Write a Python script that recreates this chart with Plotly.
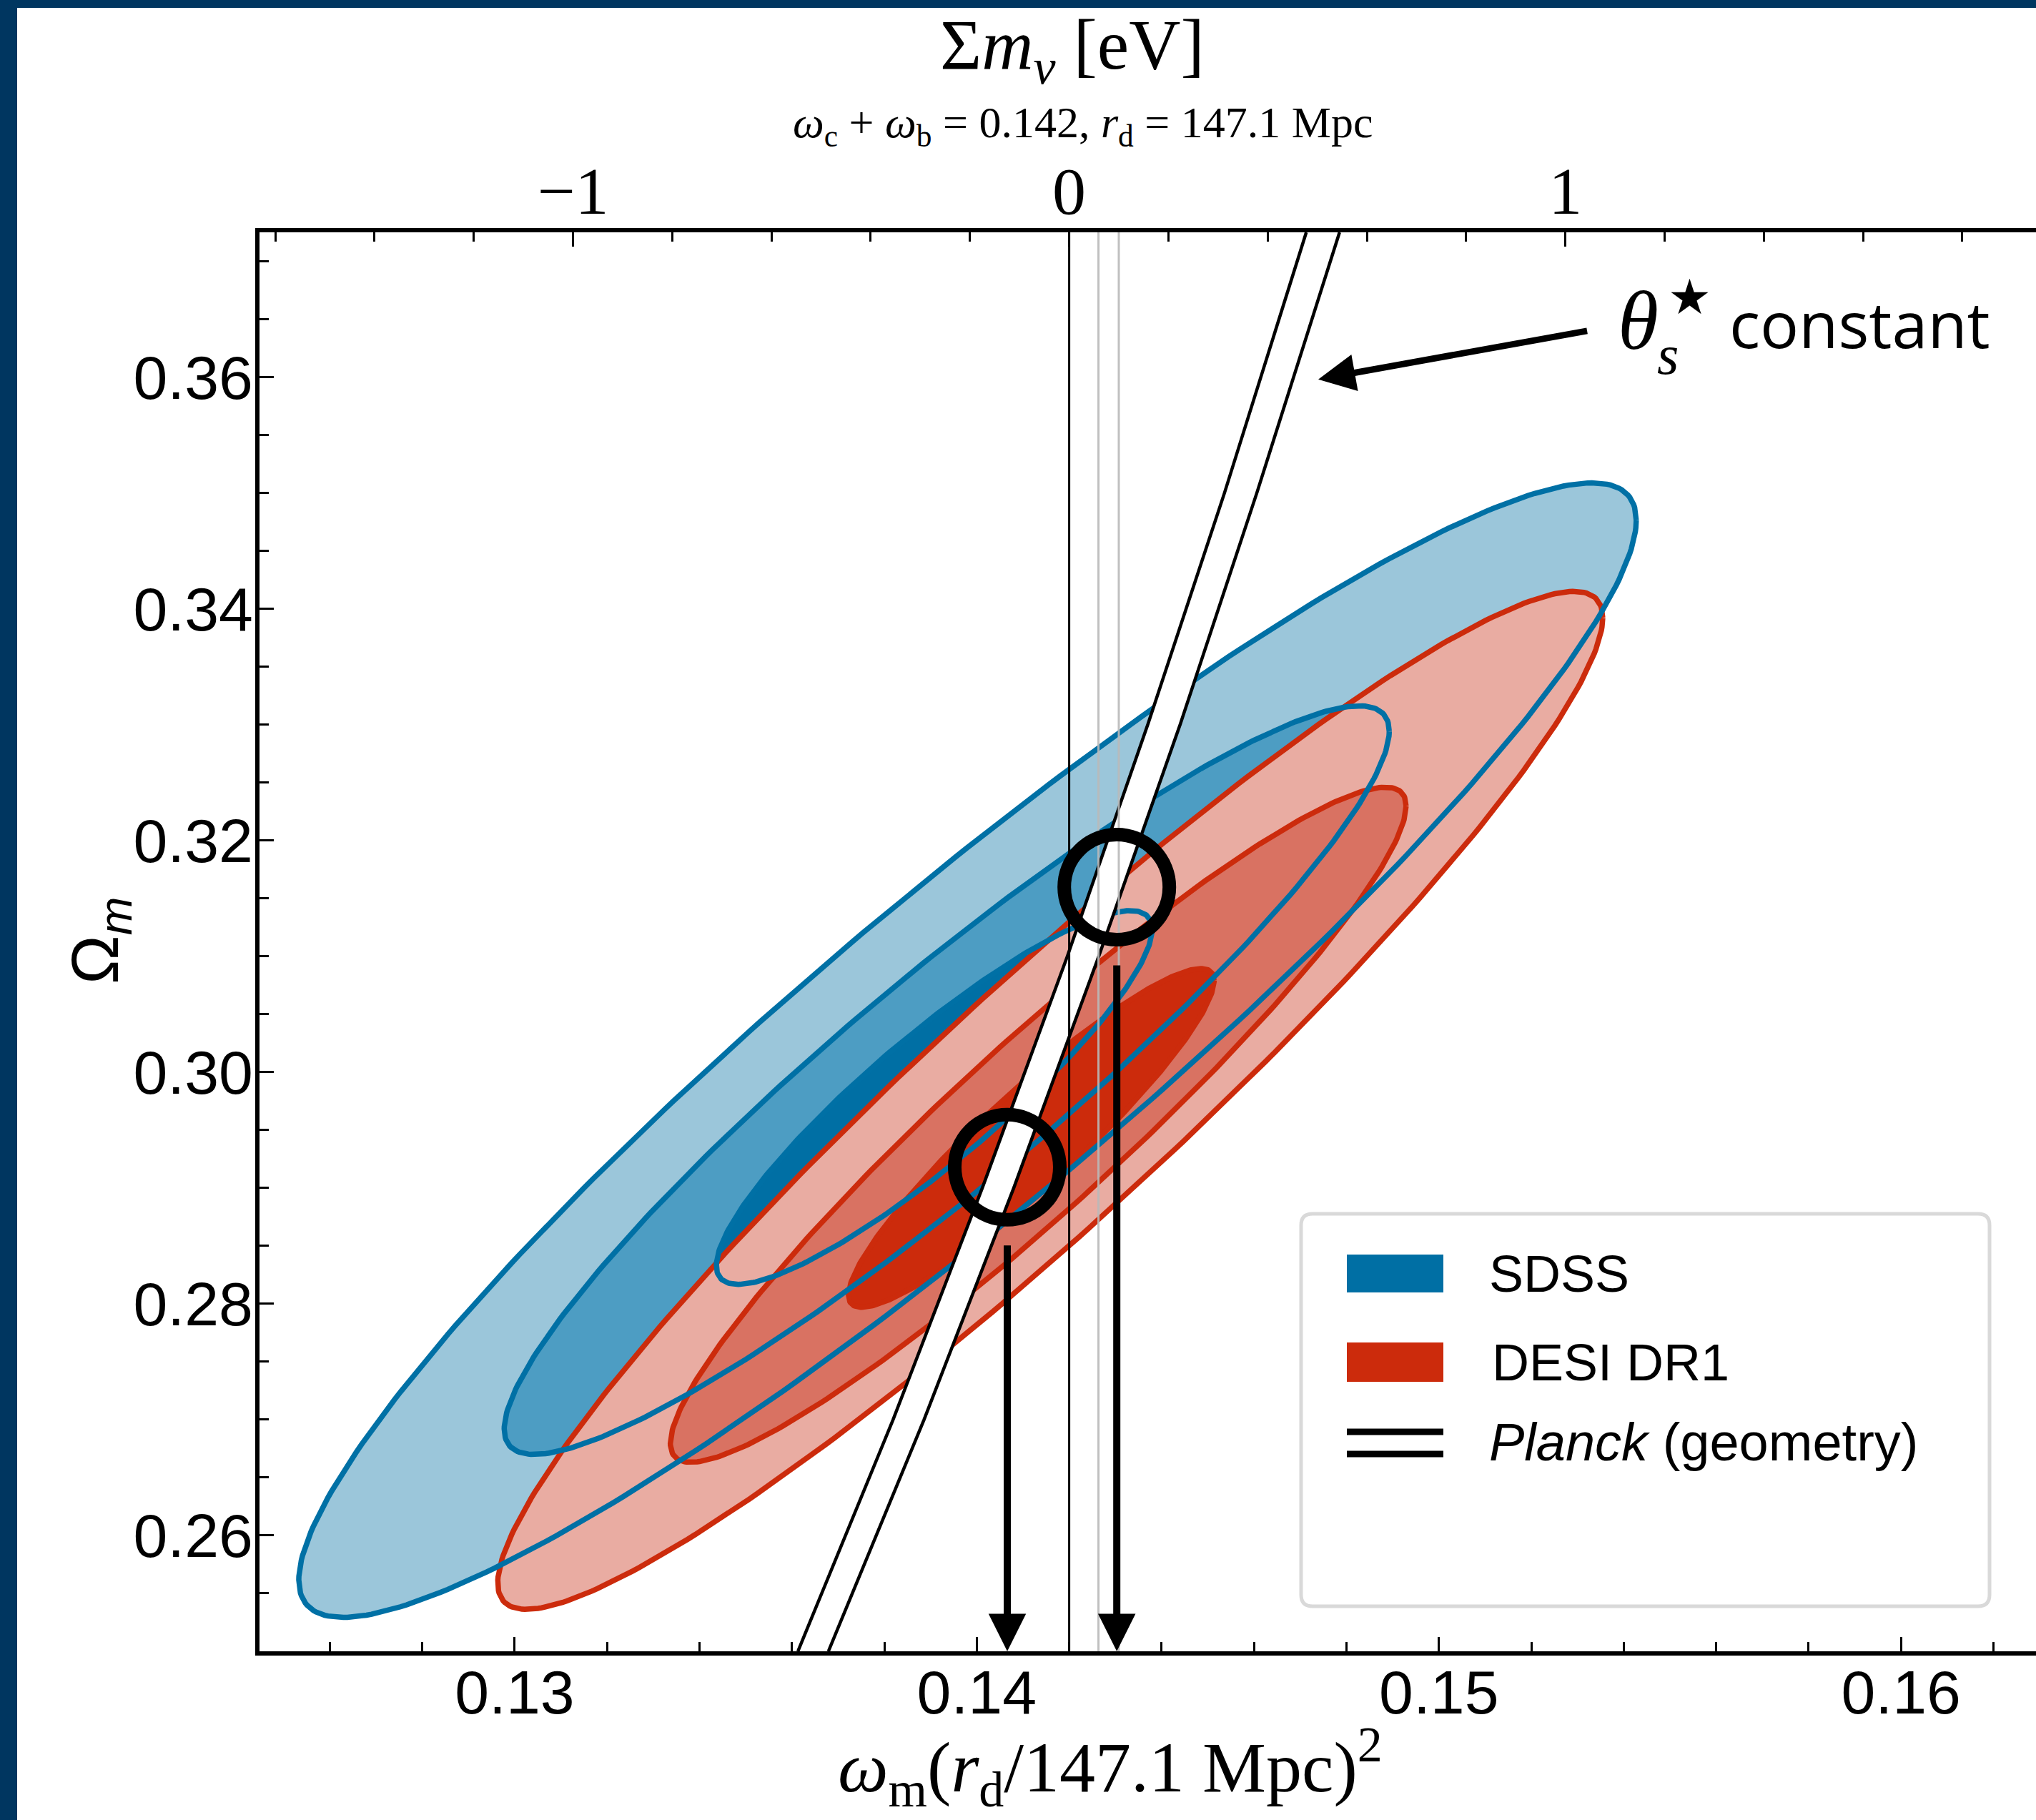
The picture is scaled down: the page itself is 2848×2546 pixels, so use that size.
import numpy as np
import plotly.graph_objects as go

# ---------------- figure geometry ----------------
W, H = 2848, 2546
ML, MR, MT, MB = 363, 0, 325, 236

# ---------------- data ----------------
X_RANGE = [0.12448, 0.16292]
Y_RANGE = [0.2500, 0.3725]
OMEGA_CB = 0.142        # omega_c + omega_b
EV_PER_OMEGA = 93.14    # sum m_nu [eV] per unit omega

X_TICKS = [0.13, 0.14, 0.15, 0.16]
Y_TICKS = [0.26, 0.28, 0.30, 0.32, 0.34, 0.36]
MNU_TICKS = [-1, 0, 1]

# SDSS contours (outer -> inner): centre, half-extent in x / y, correlation
SDSS_CX = [0.13980, 0.13935, 0.13908]
SDSS_CY = [0.30190, 0.29931, 0.29781]
SDSS_HX = [0.01447, 0.009575, 0.004715]
SDSS_HY = [0.04897, 0.03231, 0.01613]
SDSS_RHO = [0.934, 0.932, 0.900]

# DESI DR1 contours (outer -> inner)
DESI_CX = [0.14159, 0.14133, 0.14118]
DESI_CY = [0.29756, 0.29546, 0.29432]
DESI_HX = [0.011955, 0.00796, 0.003955]
DESI_HY = [0.04394, 0.02914, 0.01462]
DESI_RHO = [0.948, 0.944, 0.928]

# Planck theta* = const band (edges)
PLANCK_Y = [0.25, 0.27, 0.29, 0.31, 0.33, 0.35, 0.3725]
PLANCK_XL = [0.13613, 0.13819, 0.14012, 0.14196, 0.14370, 0.14536, 0.14713]
PLANCK_XR = [0.13679, 0.13886, 0.14080, 0.14264, 0.14440, 0.14606, 0.14785]

# neutrino-mass reference lines (eV)
MNU_ZERO = [0.0]
MNU_MIN = [0.059, 0.1]

# highlighted intersections
CIRCLE_X = [0.14303, 0.14066]
CIRCLE_Y = [0.31597, 0.29179]

THETA_TAIL = [0.15323, 0.36401]
THETA_TIP = [0.14739, 0.35981]

LEGEND_NAMES = ["SDSS", "DESI DR1", "<i>Planck</i> (geometry)"]

# ---------------- styles ----------------
SDSS_FILL = ["#9BC6DA", "#4D9DC3", "#006FA4"]
SDSS_LINE = "#0070A5"
DESI_FILL = ["#E9ACA2", "#D97262", "#CC2B0C"]
DESI_LINE = "#CC2B0C"
NAVY = "#003660"
SANS = "Liberation Sans"
SERIF = "Liberation Serif"
CW = 7.5  # contour line width

PW = W - ML - MR
PH = H - MT - MB


def pp_x(px):
    return (px - ML) / PW


def pp_y(py):
    return (H - MB - py) / PH


def ellipse(cx, cy, hx, hy, rho, n=361):
    t = np.linspace(0, 2 * np.pi, n)
    x = cx + hx * np.cos(t)
    y = cy + hy * (rho * np.cos(t) + np.sqrt(1 - rho ** 2) * np.sin(t))
    return x, y


fig = go.Figure()

# SDSS fills
for i in range(3):
    ex, ey = ellipse(SDSS_CX[i], SDSS_CY[i], SDSS_HX[i], SDSS_HY[i], SDSS_RHO[i])
    fig.add_trace(go.Scatter(x=ex, y=ey, mode="lines", fill="toself",
                             fillcolor=SDSS_FILL[i], line=dict(width=0),
                             hoverinfo="skip", showlegend=False))
# DESI fills + outlines
for i in range(3):
    ex, ey = ellipse(DESI_CX[i], DESI_CY[i], DESI_HX[i], DESI_HY[i], DESI_RHO[i])
    fig.add_trace(go.Scatter(x=ex, y=ey, mode="lines", fill="toself",
                             fillcolor=DESI_FILL[i], line=dict(width=CW, color=DESI_LINE),
                             hoverinfo="skip", showlegend=False))
# SDSS outlines on top
for i in range(3):
    ex, ey = ellipse(SDSS_CX[i], SDSS_CY[i], SDSS_HX[i], SDSS_HY[i], SDSS_RHO[i])
    fig.add_trace(go.Scatter(x=ex, y=ey, mode="lines",
                             line=dict(width=CW, color=SDSS_LINE),
                             hoverinfo="skip", showlegend=False))

# Planck band
fig.add_trace(go.Scatter(x=PLANCK_XL + PLANCK_XR[::-1], y=PLANCK_Y + PLANCK_Y[::-1],
                         mode="lines", fill="toself", fillcolor="white",
                         line=dict(width=0), hoverinfo="skip", showlegend=False))
for xs in (PLANCK_XL, PLANCK_XR):
    fig.add_trace(go.Scatter(x=xs, y=PLANCK_Y, mode="lines",
                             line=dict(width=4.5, color="black"),
                             hoverinfo="skip", showlegend=False))

# neutrino mass lines on the top axis
for m in MNU_ZERO:
    fig.add_trace(go.Scatter(x=[m, m], y=Y_RANGE, xaxis="x2", yaxis="y", mode="lines",
                             line=dict(width=3, color="black"),
                             hoverinfo="skip", showlegend=False))
for m in MNU_MIN:
    fig.add_trace(go.Scatter(x=[m, m], y=Y_RANGE, xaxis="x2", yaxis="y", mode="lines",
                             line=dict(width=3, color="rgba(185,185,185,0.9)"),
                             hoverinfo="skip", showlegend=False))

shapes = []
# circles
for cx, cy in zip(CIRCLE_X, CIRCLE_Y):
    shapes.append(dict(type="circle", xref="x", yref="y", xsizemode="pixel", ysizemode="pixel",
                       xanchor=cx, yanchor=cy, x0=-73.5, x1=73.5, y0=-73.5, y1=73.5,
                       line=dict(color="black", width=19), layer="above"))

# dark frame strips
shapes.append(dict(type="rect", xref="paper", yref="paper", x0=pp_x(0), x1=pp_x(24),
                   y0=pp_y(H), y1=pp_y(0), fillcolor=NAVY, line=dict(width=0), layer="above"))
shapes.append(dict(type="rect", xref="paper", yref="paper", x0=pp_x(0), x1=pp_x(W),
                   y0=pp_y(11), y1=pp_y(0), fillcolor=NAVY, line=dict(width=0), layer="above"))


# legend box (rounded)
def rrect_path(x0, y0, x1, y1, r):
    def P(x, y):
        return f"{pp_x(x):.6f},{pp_y(y):.6f}"
    return (f"M{P(x0 + r, y0)} L{P(x1 - r, y0)} Q{P(x1, y0)} {P(x1, y0 + r)} "
            f"L{P(x1, y1 - r)} Q{P(x1, y1)} {P(x1 - r, y1)} L{P(x0 + r, y1)} "
            f"Q{P(x0, y1)} {P(x0, y1 - r)} L{P(x0, y0 + r)} Q{P(x0, y0)} {P(x0 + r, y0)} Z")


shapes.append(dict(type="path", xref="paper", yref="paper",
                   path=rrect_path(1820, 1698, 2783, 2247, 16),
                   fillcolor="white", line=dict(color="#D9D9D9", width=5), layer="above"))
shapes.append(dict(type="rect", xref="paper", yref="paper", x0=pp_x(1884), x1=pp_x(2019),
                   y0=pp_y(1808), y1=pp_y(1755), fillcolor=SDSS_FILL[2], line=dict(width=0),
                   layer="above"))
shapes.append(dict(type="rect", xref="paper", yref="paper", x0=pp_x(1884), x1=pp_x(2019),
                   y0=pp_y(1933), y1=pp_y(1878), fillcolor=DESI_FILL[2], line=dict(width=0),
                   layer="above"))
for ly in (2003, 2034):
    shapes.append(dict(type="line", xref="paper", yref="paper", x0=pp_x(1884), x1=pp_x(2019),
                       y0=pp_y(ly), y1=pp_y(ly), line=dict(color="black", width=9),
                       layer="above"))

annotations = []
# arrows from circles to the omega axis
for cx, cy in zip(CIRCLE_X, CIRCLE_Y):
    annotations.append(dict(x=cx, y=Y_RANGE[0], xref="x", yref="y", ax=cx, ay=cy,
                            axref="x", ayref="y", text="", showarrow=True, arrowhead=2,
                            arrowsize=1.05, arrowwidth=10, arrowcolor="black",
                            startstandoff=108, standoff=0))
annotations.append(dict(x=THETA_TIP[0], y=THETA_TIP[1], xref="x", yref="y",
                        ax=THETA_TAIL[0], ay=THETA_TAIL[1], axref="x", ayref="y", text="",
                        showarrow=True, arrowhead=2, arrowsize=1.15, arrowwidth=9,
                        arrowcolor="black", standoff=0))


def txt(text, px, py, size, family, xanchor="center", yanchor="middle", angle=0):
    annotations.append(dict(text=text, x=pp_x(px), y=pp_y(py), xref="paper", yref="paper",
                            xanchor=xanchor, yanchor=yanchor, showarrow=False,
                            textangle=angle, font=dict(size=size, family=family, color="black")))


# theta label
txt("<i>θ</i>", 2291, 449, 116, SERIF)
txt("★", 2363, 416, 68, "DejaVu Sans")
txt("<i>s</i>", 2333, 497, 78, SERIF)
txt("constant", 2417, 452, 90, "Open Sans", xanchor="left")

# axis titles
txt("Σ<i>m</i><sub><i>ν</i></sub> [eV]", 1500, 70, 100, SERIF)
txt("<i>ω</i><sub>c</sub> + <i>ω</i><sub>b</sub> = 0.142, <i>r</i><sub>d</sub> = 147.1 Mpc",
    1514, 175, 62, SERIF)
txt("<i>ω</i><sub>m</sub>(<i>r</i><sub>d</sub>/147.1 Mpc)<sup>2</sup>", 1553, 2472, 100, SERIF)
txt("Ω<sub><i>m</i></sub>", 140, 1316, 92, SANS, angle=-90)

# legend labels
txt(LEGEND_NAMES[0], 2081, 1782, 72, SANS, xanchor="left")
txt(LEGEND_NAMES[1], 2085, 1906, 72, SANS, xanchor="left")
txt(LEGEND_NAMES[2], 2081, 2017, 74, SANS, xanchor="left")

mnu_range = [(X_RANGE[0] - OMEGA_CB) * EV_PER_OMEGA, (X_RANGE[1] - OMEGA_CB) * EV_PER_OMEGA]

axis_common = dict(showgrid=False, zeroline=False, showline=True, linewidth=6,
                   linecolor="black", ticks="inside", ticklen=20, tickwidth=3,
                   tickcolor="black")

fig.update_layout(
    width=W, height=H,
    margin=dict(l=ML, r=MR, t=MT, b=MB, pad=0),
    paper_bgcolor="white", plot_bgcolor="white",
    showlegend=False,
    xaxis=dict(range=X_RANGE, tickvals=X_TICKS, ticktext=[f"{v:.2f}" for v in X_TICKS],
               tickfont=dict(family=SANS, size=86, color="black"), ticklabelstandoff=-22,
               minor=dict(dtick=0.002, tick0=0.13, ticks="inside", ticklen=13, tickwidth=3,
                          tickcolor="black"),
               **axis_common),
    xaxis2=dict(range=mnu_range, overlaying="x", side="top", anchor="y",
                tickvals=MNU_TICKS, ticktext=[("−" if v < 0 else "") + str(abs(v)) for v in MNU_TICKS],
                tickfont=dict(family=SERIF, size=94, color="black"), ticklabelstandoff=-18,
                minor=dict(dtick=0.2, tick0=0, ticks="inside", ticklen=13, tickwidth=3,
                           tickcolor="black"),
                **axis_common),
    yaxis=dict(range=Y_RANGE, tickvals=Y_TICKS, ticktext=[f"{v:.2f}" for v in Y_TICKS],
               tickfont=dict(family=SANS, size=86, color="black"), ticklabelstandoff=-14,
               minor=dict(dtick=0.005, tick0=0.26, ticks="inside", ticklen=13, tickwidth=3,
                          tickcolor="black"),
               **axis_common),
    shapes=shapes,
    annotations=annotations,
)

fig.write_html("out.html")
